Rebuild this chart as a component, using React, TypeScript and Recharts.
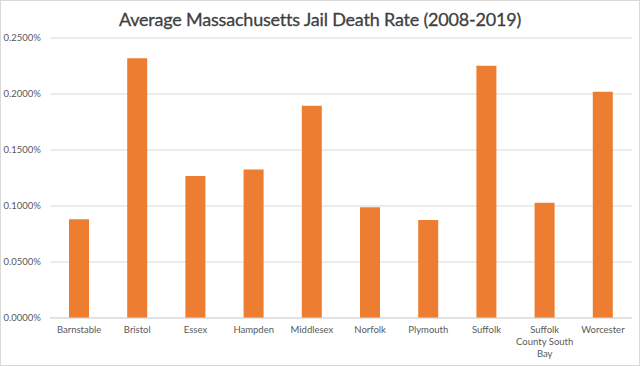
import React from "react";
import { Bar, BarChart, CartesianGrid, XAxis, YAxis } from "recharts";

const counties = [
  "Barnstable",
  "Bristol",
  "Essex",
  "Hampden",
  "Middlesex",
  "Norfolk",
  "Plymouth",
  "Suffolk",
  "Suffolk County South Bay",
  "Worcester",
];

// average death rate, in percent
const deathRate = [0.0881, 0.2319, 0.1268, 0.1327, 0.1896, 0.0988, 0.0875, 0.2253, 0.103, 0.202];

const yTicks = [0, 0.05, 0.1, 0.15, 0.2, 0.25];

const data = counties.map((county, i) => ({ county, rate: deathRate[i] }));

const FONT = "Lato, 'Open Sans', sans-serif";
const GREY = "#595959";

// Excel wraps the long label; split it by hand
const wrapLabel = (label: string): string[] =>
  label === "Suffolk County South Bay" ? ["Suffolk", "County South", "Bay"] : [label];

function CountyTick(props: any) {
  const { x, y, payload } = props;
  const lines = wrapLabel(payload.value);
  return (
    <text x={x} y={y} textAnchor="middle" fill={GREY} fontSize={9.5} fontFamily={FONT}>
      {lines.map((line, i) => (
        <tspan key={i} x={x} dy={i === 0 ? "0.71em" : 12.3}>
          {line}
        </tspan>
      ))}
    </text>
  );
}

export default function App() {
  return (
    <div
      style={{
        position: "absolute",
        left: 0,
        top: 0,
        width: 640,
        height: 366,
        border: "1px solid #d9d9d9",
        boxSizing: "border-box",
        background: "#fff",
        fontFamily: FONT,
      }}
    >
      <div
        style={{
          position: "absolute",
          left: 0,
          right: 0,
          top: 7,
          textAlign: "center",
          fontSize: 18,
          letterSpacing: -0.2,
          color: "#404040",
          lineHeight: "22px",
          WebkitTextStroke: "0.3px #404040",
        }}
      >
        Average Massachusetts Jail Death Rate (2008-2019)
      </div>
      <BarChart
        width={638}
        height={364}
        data={data}
        margin={{ top: 37, right: 7, bottom: 0, left: -1 }}
        style={{ position: "absolute", left: 0, top: 0 }}
      >
        <CartesianGrid stroke="#d9d9d9" vertical={false} />
        <XAxis
          dataKey="county"
          interval={0}
          height={47}
          tickLine={false}
          tickSize={0}
          tickMargin={8}
          axisLine={{ stroke: "#d9d9d9" }}
          tick={<CountyTick />}
        />
        <YAxis
          width={50}
          domain={[0, 0.25]}
          ticks={yTicks}
          tickFormatter={(v: number) => v.toFixed(4) + "%"}
          axisLine={false}
          tickLine={false}
          tickSize={0}
          tickMargin={9}
          tick={{ fill: GREY, fontSize: 9.5, fontFamily: FONT }}
        />
        <Bar dataKey="rate" fill="#ED7D31" barSize={20} isAnimationActive={false} />
      </BarChart>
    </div>
  );
}
